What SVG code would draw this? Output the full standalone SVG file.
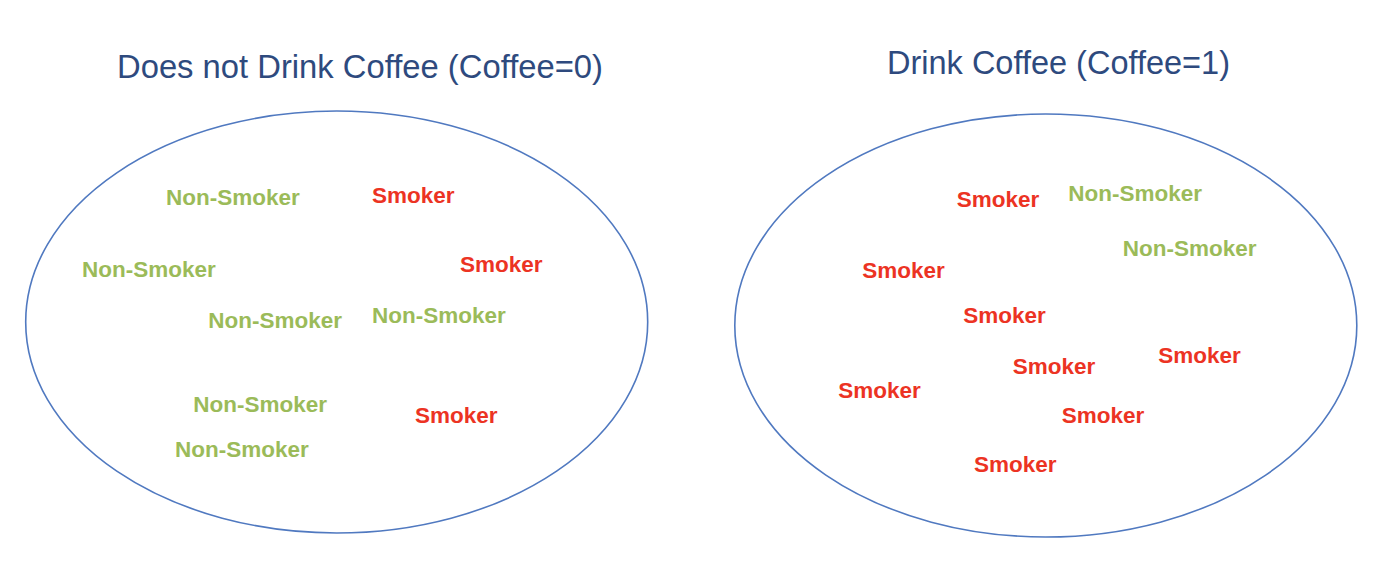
<svg xmlns="http://www.w3.org/2000/svg" width="1380" height="564" viewBox="0 0 1380 564">
<style>
.title{font-family:"Liberation Sans",Arial,sans-serif;font-size:32.5px;fill:#2E4A7E}
.set{fill:none;stroke:#5079C0;stroke-width:1.6}
.lbl{font-family:"Liberation Sans",Arial,sans-serif;font-size:22.5px;font-weight:bold}
.non{fill:#9BBB59}
.smk{fill:#EC3323}
</style>
<rect width="1380" height="564" fill="#FFFFFF"/>
<g id="group-coffee0">
<text class="title" x="117" y="77.5" textLength="486" lengthAdjust="spacingAndGlyphs">Does not Drink Coffee (Coffee=0)</text>
<ellipse class="set" cx="336.7" cy="322" rx="311" ry="211"/>
<g id="c0-n1"><text class="lbl non" x="166" y="205">Non-Smoker</text></g>
<g id="c0-s1"><text class="lbl smk" x="372" y="203.3">Smoker</text></g>
<g id="c0-n2"><text class="lbl non" x="82" y="277.3">Non-Smoker</text></g>
<g id="c0-s2"><text class="lbl smk" x="460" y="271.7">Smoker</text></g>
<g id="c0-n3"><text class="lbl non" x="208.3" y="327.7">Non-Smoker</text></g>
<g id="c0-n4"><text class="lbl non" x="372" y="323.3">Non-Smoker</text></g>
<g id="c0-n5"><text class="lbl non" x="193.3" y="411.7">Non-Smoker</text></g>
<g id="c0-s3"><text class="lbl smk" x="415" y="422.7">Smoker</text></g>
<g id="c0-n6"><text class="lbl non" x="175" y="457.3">Non-Smoker</text></g>
</g>
<g id="group-coffee1">
<text class="title" x="887" y="74.3" textLength="343" lengthAdjust="spacingAndGlyphs">Drink Coffee (Coffee=1)</text>
<ellipse class="set" cx="1045.8" cy="325.5" rx="311" ry="211.5"/>
<g id="c1-s1"><text class="lbl smk" x="956.7" y="206.7">Smoker</text></g>
<g id="c1-n1"><text class="lbl non" x="1068.3" y="201">Non-Smoker</text></g>
<g id="c1-n2"><text class="lbl non" x="1122.7" y="256">Non-Smoker</text></g>
<g id="c1-s2"><text class="lbl smk" x="862.3" y="277.7">Smoker</text></g>
<g id="c1-s3"><text class="lbl smk" x="963.3" y="323.3">Smoker</text></g>
<g id="c1-s4"><text class="lbl smk" x="1012.7" y="374">Smoker</text></g>
<g id="c1-s5"><text class="lbl smk" x="1158.3" y="362.7">Smoker</text></g>
<g id="c1-s6"><text class="lbl smk" x="838.3" y="397.7">Smoker</text></g>
<g id="c1-s7"><text class="lbl smk" x="1061.7" y="422.7">Smoker</text></g>
<g id="c1-s8"><text class="lbl smk" x="974" y="471.7">Smoker</text></g>
</g>
<g id="connectors"></g>
</svg>
